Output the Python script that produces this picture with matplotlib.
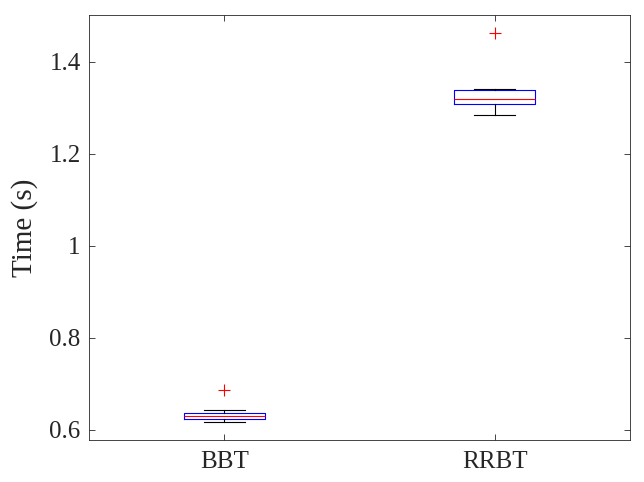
import matplotlib
matplotlib.use("Agg")
import matplotlib.pyplot as plt

categories = ["BBT", "RRBT"]
q1 = [0.623, 1.309]
med = [0.630, 1.319]
q3 = [0.636, 1.338]
whislo = [0.617, 1.284]
whishi = [0.643, 1.342]
fliers = [[0.687], [1.462]]
yticks = [0.6, 0.8, 1.0, 1.2, 1.4]
yticklabels = ["0.6", "0.8", "1", "1.2", "1.4"]

plt.rcParams['font.family'] = ['Liberation Serif', 'DejaVu Serif']

fig = plt.figure(figsize=(6.44, 4.82), dpi=100)
ax = fig.add_axes([89/644, 1-440/482, 541/644, 425/482])

stats = []
for i, c in enumerate(categories):
    stats.append(dict(label=c, q1=q1[i], med=med[i], q3=q3[i],
                      whislo=whislo[i], whishi=whishi[i], fliers=fliers[i]))

ax.bxp(stats, positions=[1, 2], widths=0.3,
       boxprops=dict(color='blue', linewidth=0.8),
       medianprops=dict(color='red', linewidth=0.8),
       whiskerprops=dict(color='black', linewidth=0.8),
       capprops=dict(color='black', linewidth=0.8),
       capwidths=0.15,
       flierprops=dict(marker='+', markeredgecolor='red', markersize=8, markeredgewidth=0.8))

ax.set_xlim(0.5, 2.5)
ax.set_ylim(0.578, 1.502)
ax.set_yticks(yticks)
ax.set_yticklabels(yticklabels)
ax.tick_params(direction='in', labelsize=18, length=4, width=0.6, top=True, right=True,
               colors='#262626', labelcolor='#262626')
ax.tick_params(axis='x', pad=8)
ax.tick_params(axis='y', pad=6)
for s in ax.spines.values():
    s.set_linewidth(0.6)
    s.set_color('#262626')
ax.set_ylabel("Time (s)", fontsize=21, labelpad=8, color='#262626')

fig.savefig("out.png", dpi=100)
